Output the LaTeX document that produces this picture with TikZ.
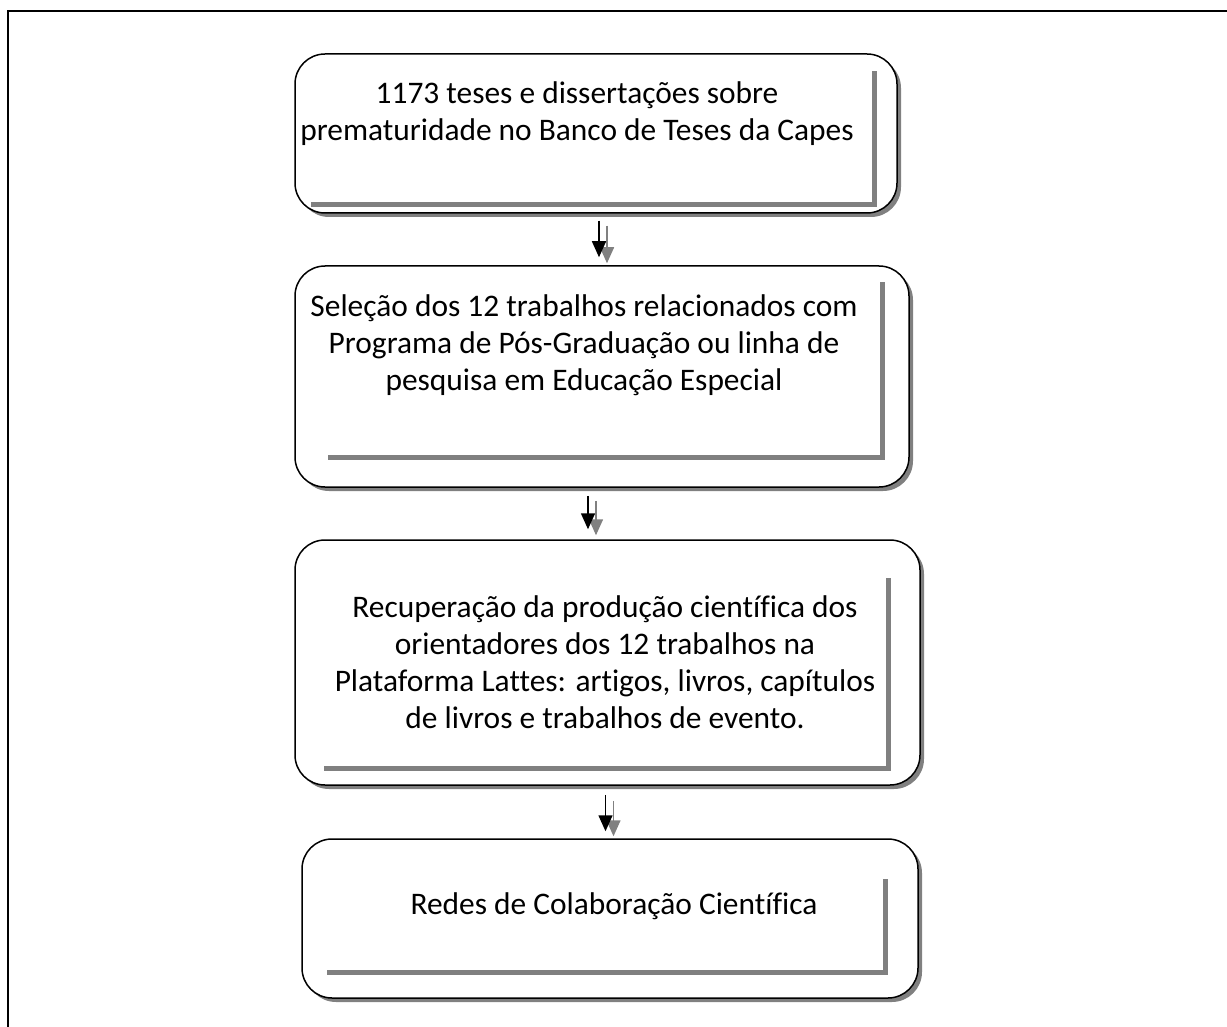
\documentclass[tikz,border=0pt]{standalone}
\usepackage{fontspec}
\setmainfont{Carlito}[Ligatures=NoCommon]
\usetikzlibrary{arrows.meta,shadows}
\definecolor{shadowgray}{HTML}{808080}
\tikzset{
  stagebox/.style={draw=black, line width=1.5pt, fill=white, rounded corners=30pt,
    drop shadow={shadow xshift=4pt, shadow yshift=-4pt, fill=shadowgray, opacity=1}},
  inner/.style={draw=shadowgray, line width=5pt},
  label/.style={align=center, font=\fontsize{31.4}{37}\selectfont, inner sep=0pt},
  arr/.style={line width=1.5pt, -{Triangle[width=14pt,length=16pt]}},
  arrgray/.style={draw=shadowgray, line width=1.5pt, -{Triangle[width=14pt,length=16pt]}, color=shadowgray},
  frame/.style={line width=2.5pt}
}
\begin{document}
\begin{tikzpicture}[x=1pt,y=-1pt]
\useasboundingbox (0,0) rectangle (1227,1027);
% outer frame (left and top)
\draw[frame] (8,1030) -- (8,11) -- (1230,11);

% boxes
\node[stagebox, minimum width=602pt, minimum height=159pt] (b1) at (596,133.5) {};
\node[stagebox, minimum width=614pt, minimum height=221pt] (b2) at (602,376.5) {};
\node[stagebox, minimum width=625pt, minimum height=245pt] (b3) at (607.5,662.5) {};
\node[stagebox, minimum width=616pt, minimum height=159pt] (b4) at (610,918.5) {};

% inner gray frames
\draw[inner] ([xshift=17pt,yshift=9pt]b1.south west) -| ([xshift=-23pt,yshift=-18pt]b1.north east);
\draw[inner] ([xshift=34pt,yshift=30pt]b2.south west) -| ([xshift=-27pt,yshift=-17pt]b2.north east);
\draw[inner] ([xshift=30pt,yshift=17pt]b3.south west) -| ([xshift=-32pt,yshift=-39pt]b3.north east);
\draw[inner] ([xshift=26pt,yshift=26pt]b4.south west) -| ([xshift=-33pt,yshift=-41pt]b4.north east);

% texts
\node[label] (t1) at (577,114) {1173 teses e dissertações sobre\\prematuridade no Banco de Teses da Capes};
\node[label] (t2) at (584,345) {Seleção dos 12 trabalhos relacionados com\\Programa de Pós-Graduação ou linha de\\pesquisa em Educação Especial};
\node[label] (t3) at (605,662) {Recuperação da produção científica dos\\orientadores dos 12 trabalhos na\\Plataforma Lattes: artigos, livros, capítulos\\de livros e trabalhos de evento.};
\node[label] (t4) at (614,906) {Redes de Colaboração Científica};

% arrows (gray shadow first, black on top)
\draw[arrgray, shorten <=12pt, shorten >=2pt] ([xshift=11pt]b1.south) -- ([xshift=11pt]b1.south |- b2.north);
\draw[arr, shorten <=7pt, shorten >=8pt] ([xshift=3pt]b1.south) -- ([xshift=3pt]b1.south |- b2.north);

\draw[arrgray, shorten <=13pt, shorten >=4pt] ([xshift=-6pt]b2.south) -- ([xshift=-6pt]b2.south |- b3.north);
\draw[arr, shorten <=8pt, shorten >=10pt] ([xshift=-14pt]b2.south) -- ([xshift=-14pt]b2.south |- b3.north);

\draw[arrgray, shorten <=15pt, shorten >=2pt] ([xshift=6pt]b3.south) -- ([xshift=6pt]b3.south |- b4.north);
\draw[arr, shorten <=9pt, shorten >=7pt] ([xshift=-2pt]b3.south) -- ([xshift=-2pt]b3.south |- b4.north);
\end{tikzpicture}
\end{document}
